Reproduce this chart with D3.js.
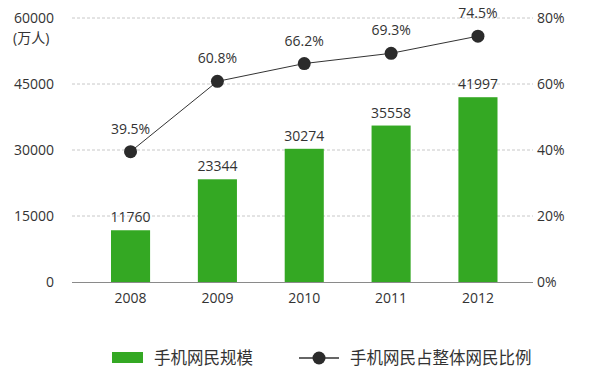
<!DOCTYPE html>
<html><head><meta charset="utf-8">
<script src="https://cdn.jsdelivr.net/npm/d3@7"></script>
<style>body{margin:0;background:#fff}text{font-family:"Open Sans","Noto Sans CJK SC",sans-serif;fill:#333}</style>
</head><body><svg id="c" width="596" height="388"></svg>
<script>
const years = ["2008","2009","2010","2011","2012"];
const users = [11760, 23344, 30274, 35558, 41997];
const ratio = [39.5, 60.8, 66.2, 69.3, 74.5];
const leftTicks = [0, 15000, 30000, 45000, 60000];
const rightTicks = [0, 20, 40, 60, 80];
const legendNames = ["手机网民规模", "手机网民占整体网民比例"];
const unitLabel = "(万人)";

const svg = d3.select("#c");
const L = 72, R = 533, T = 18, B = 282;
const x = d3.scaleBand().domain(years).range([111, 497.5]).paddingInner(0.55).paddingOuter(0);
const yL = d3.scaleLinear().domain([0, 60000]).range([B, T]);
const yR = d3.scaleLinear().domain([0, 80]).range([B, T]);
const cx = d => x(d) + x.bandwidth() / 2;

// gridlines
svg.append("g").selectAll("line").data(leftTicks.filter(d => d > 0)).join("line")
  .attr("x1", L).attr("x2", R).attr("y1", d => yL(d)).attr("y2", d => yL(d))
  .attr("stroke", "#c8c8c8").attr("stroke-dasharray", "3,2").attr("stroke-width", 1);

// left axis
const axL = d3.axisLeft(yL).tickValues(leftTicks).tickSize(0).tickPadding(0).tickFormat(d3.format("d"));
const gL = svg.append("g").attr("transform", `translate(${L - 18},0)`).call(axL);
gL.select(".domain").remove();
gL.selectAll("text").attr("font-size", 14).attr("dy", "0.35em").style("fill", "#333");
svg.append("text").attr("x", 13).attr("y", 43).attr("font-size", 14).text(unitLabel);

// right axis
const axR = d3.axisRight(yR).tickValues(rightTicks).tickSize(0).tickPadding(0).tickFormat(d => d + "%");
const gR = svg.append("g").attr("transform", `translate(${R + 4},0)`).call(axR);
gR.select(".domain").remove();
gR.selectAll("text").attr("font-size", 14).attr("dy", "0.35em").style("fill", "#333");

// bars
svg.append("g").selectAll("rect").data(years).join("rect")
  .attr("x", d => x(d)).attr("width", x.bandwidth())
  .attr("y", (d, i) => yL(users[i])).attr("height", (d, i) => B - yL(users[i]))
  .attr("fill", "#34a823");

// baseline
svg.append("line").attr("x1", L).attr("x2", R).attr("y1", B + 0.5).attr("y2", B + 0.5)
  .attr("stroke", "#8a8a8a").attr("stroke-width", 1);

// bottom axis labels
const axB = d3.axisBottom(x).tickSize(0).tickPadding(0);
const gB = svg.append("g").attr("transform", `translate(0,${B + 16})`).call(axB);
gB.select(".domain").remove();
gB.selectAll("text").attr("font-size", 14).attr("dy", "0.35em").style("fill", "#333");

// bar labels
svg.append("g").selectAll("text").data(years).join("text")
  .attr("x", d => cx(d)).attr("y", (d, i) => yL(users[i]) - 8)
  .attr("text-anchor", "middle").attr("font-size", 14).text((d, i) => users[i]);

// line
const line = d3.line().x(d => cx(d[0])).y(d => yR(d[1]));
svg.append("path").datum(years.map((d, i) => [d, ratio[i]])).attr("d", line)
  .attr("fill", "none").attr("stroke", "#333").attr("stroke-width", 1);
svg.append("g").selectAll("circle").data(years).join("circle")
  .attr("cx", d => cx(d)).attr("cy", (d, i) => yR(ratio[i])).attr("r", 6.5).attr("fill", "#2b2b2b");
svg.append("g").selectAll("text").data(years).join("text")
  .attr("x", d => cx(d)).attr("y", (d, i) => yR(ratio[i]) - 18)
  .attr("text-anchor", "middle").attr("font-size", 14).text((d, i) => ratio[i].toFixed(1) + "%");

// legend
const lg = svg.append("g");
lg.append("rect").attr("x", 112).attr("y", 352).attr("width", 31).attr("height", 11).attr("fill", "#34a823");
lg.append("text").attr("x", 154).attr("y", 358).attr("dy", "0.35em").attr("font-size", 16.5).text(legendNames[0]);
lg.append("line").attr("x1", 299).attr("x2", 339).attr("y1", 358).attr("y2", 358).attr("stroke", "#333").attr("stroke-width", 1.5);
lg.append("circle").attr("cx", 319).attr("cy", 358).attr("r", 6.5).attr("fill", "#2b2b2b");
lg.append("text").attr("x", 350).attr("y", 358).attr("dy", "0.35em").attr("font-size", 16.5).text(legendNames[1]);
</script></body></html>
